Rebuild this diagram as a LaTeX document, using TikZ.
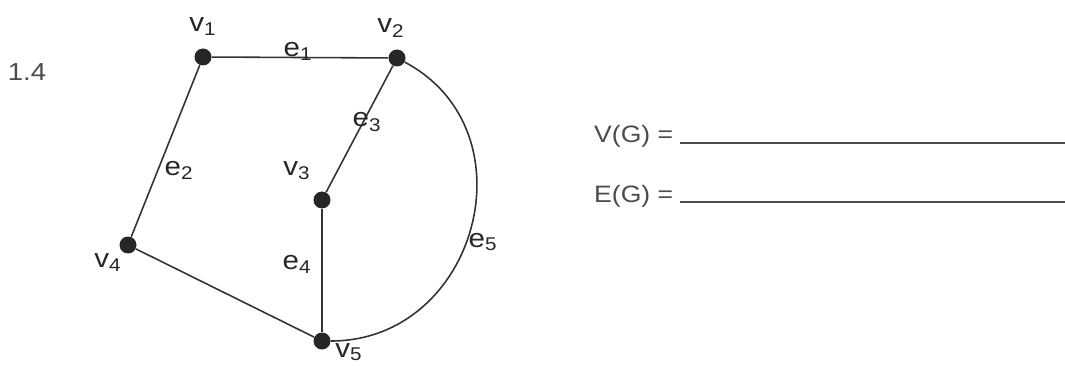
\documentclass[tikz,border=0pt]{standalone}
\usepackage{fontspec}
\setmainfont{Liberation Sans}[FakeStretch=1.12]
\usetikzlibrary{positioning}
\tikzset{
  vert/.style={circle,fill=black!85,inner sep=0pt,minimum size=0.34cm},
  arista/.style={black!80,line width=0.9pt},
  etiq/.style={font=\fontsize{15}{17}\selectfont,text=black!85},
  texto/.style={font=\fontsize{13.5}{16}\selectfont,text=black!70},
  renglon/.style={black!70,line width=0.7pt}
}

\begin{document}
\begin{tikzpicture}
\useasboundingbox (0,0) rectangle (21.3,7.3);
% vertices
\node[vert] (v1) at (4.06,6.16) {};
\node[vert] (v2) at (7.94,6.14) {};
\node[vert] (v3) at (6.44,3.30) {};
\node[vert] (v4) at (2.56,2.40) {};
\node[vert] (v5) at (6.44,0.48) {};
\node[etiq] (lv1) at (4.06,6.76) {v\textsubscript{1}};
\node[etiq] (lv2) at (7.82,6.74) {v\textsubscript{2}};
\node[etiq] (lv3) at (5.94,3.88) {v\textsubscript{3}};
\node[etiq] (lv4) at (2.16,2.04) {v\textsubscript{4}};
\node[etiq,anchor=base] (lv5) at (6.98,0.16) {v\textsubscript{5}};
% aristas
\draw[arista] (v1) -- (v2);
\draw[arista] (v1) -- (v4);
\draw[arista] (v2) -- (v3);
\draw[arista] (v3) -- (v5);
\draw[arista] (v4) -- (v5);
\draw[arista] (v2) to[out=-28,in=0,looseness=1.3] (v5);
\node[etiq] (le1) at (5.96,6.28) {e\textsubscript{1}};
\node[etiq] (le2) at (3.58,3.90) {e\textsubscript{2}};
\node[etiq] (le3) at (7.34,4.86) {e\textsubscript{3}};
\node[etiq] (le4) at (5.94,2.02) {e\textsubscript{4}};
\node[etiq] (le5) at (9.66,2.46) {e\textsubscript{5}};
% enunciado
\node[texto,font=\fontsize{14}{17}\selectfont] (num) at (0.54,5.86) {1.4};
\node[texto,anchor=base west] (vg) at (11.76,4.44) {V(G) =};
\node[texto,anchor=base west] (eg) at (11.76,3.26) {E(G) =};
\coordinate (vgini) at (13.6,4.44); \coordinate (vgfin) at (21.3,4.44);
\coordinate (egini) at (13.6,3.26); \coordinate (egfin) at (21.3,3.26);
\draw[renglon] (vgini) -- (vgfin);
\draw[renglon] (egini) -- (egfin);
\end{tikzpicture}
\end{document}
